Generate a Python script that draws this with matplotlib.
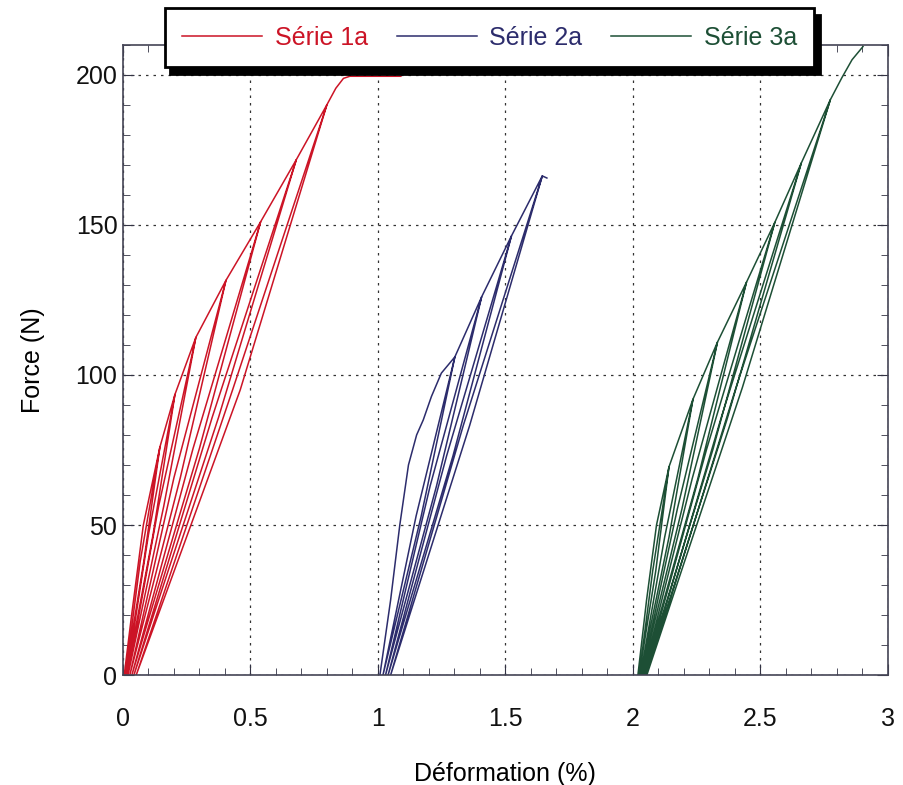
import matplotlib.pyplot as plt
from matplotlib.ticker import MultipleLocator

plt.rcParams['font.family'] = ['Liberation Sans', 'DejaVu Sans']

# Série 1a : first loading, cycle peaks, residual strain, branch x at half peak force
s1_env_x = [0.005, 0.034, 0.08]
s1_env_f = [0, 20, 50]
s1_peak_x = [0.145, 0.204, 0.286, 0.404, 0.54, 0.68, 0.80]
s1_peak_f = [76, 93.5, 112.5, 131.5, 151, 171.7, 190]
s1_resid_x = [0.010, 0.015, 0.020, 0.027, 0.035, 0.043, 0.052]
s1_reload_mid = [0.068, 0.100, 0.140, 0.200, 0.275, 0.350, 0.430]
s1_unload_mid = [0.082, 0.118, 0.160, 0.225, 0.300, 0.375, 0.460]
s1_end_x = [0.835, 0.865, 0.89, 1.09]
s1_end_f = [195.5, 198.8, 199.5, 199.5]

# Série 2a
s2_env_x = [1.008, 1.05, 1.086, 1.12, 1.152, 1.178, 1.21, 1.249]
s2_env_f = [0, 25, 50, 70, 80, 85, 92.8, 100.6]
s2_peak_x = [1.302, 1.407, 1.524, 1.645]
s2_peak_f = [106, 126, 146.3, 166.3]
s2_resid_x = [1.02, 1.03, 1.04, 1.05]
s2_reload_mid = [1.15, 1.205, 1.27, 1.335]
s2_unload_mid = [1.17, 1.23, 1.295, 1.36]
s2_end_x = [1.663]
s2_end_f = [165.6]

# Série 3a
s3_env_x = [2.02, 2.054, 2.093]
s3_env_f = [0, 25, 50]
s3_peak_x = [2.142, 2.236, 2.332, 2.446, 2.557, 2.661, 2.775]
s3_peak_f = [69.4, 91.9, 110.9, 130.9, 150.8, 170.6, 191.7]
s3_resid_x = [2.025, 2.03, 2.035, 2.04, 2.045, 2.05, 2.055]
s3_reload_mid = [2.078, 2.125, 2.175, 2.233, 2.29, 2.345, 2.405]
s3_unload_mid = [2.09, 2.142, 2.193, 2.255, 2.315, 2.37, 2.43]
s3_end_x = [2.82, 2.86, 2.903]
s3_end_f = [199, 205, 209.4]

labels = ['Série 1a', 'Série 2a', 'Série 3a']
colors = ['#cc1426', '#2c2c6c', '#1d4f35']


def build_path(env_x, env_f, peak_x, peak_f, resid, rel_mid, unl_mid, end_x, end_f):
    # chain the cycles: load to peak, unload to residual, reload back to peak
    xs = list(env_x)
    fs = list(env_f)
    for px, pf, r, rm, um in zip(peak_x, peak_f, resid, rel_mid, unl_mid):
        xs += [px, um, r, rm, px]
        fs += [pf, pf / 2, 0, pf / 2, pf]
    xs += end_x
    fs += end_f
    return xs, fs


series = [
    (s1_env_x, s1_env_f, s1_peak_x, s1_peak_f, s1_resid_x, s1_reload_mid, s1_unload_mid, s1_end_x, s1_end_f),
    (s2_env_x, s2_env_f, s2_peak_x, s2_peak_f, s2_resid_x, s2_reload_mid, s2_unload_mid, s2_end_x, s2_end_f),
    (s3_env_x, s3_env_f, s3_peak_x, s3_peak_f, s3_resid_x, s3_reload_mid, s3_unload_mid, s3_end_x, s3_end_f),
]

fig = plt.figure(figsize=(9.04, 7.85), dpi=100)
ax = fig.add_axes([0.136, 0.140, 0.846, 0.803])

for data, lab, col in zip(series, labels, colors):
    x, f = build_path(*data)
    ax.plot(x, f, color=col, lw=1.1, label=lab)

ax.set_xlim(0, 3)
ax.set_ylim(0, 210)
ax.xaxis.set_major_locator(MultipleLocator(0.5))
ax.xaxis.set_minor_locator(MultipleLocator(0.1))
ax.yaxis.set_major_locator(MultipleLocator(50))
ax.yaxis.set_minor_locator(MultipleLocator(10))
ax.set_xticks([0, 0.5, 1, 1.5, 2, 2.5, 3])
ax.set_xticklabels(['0', '0.5', '1', '1.5', '2', '2.5', '3'])
ax.tick_params(which='both', direction='in', top=True, right=True, colors='#333344')
ax.tick_params(which='major', length=8, labelsize=18, labelcolor='#111111')
ax.tick_params(axis='x', which='major', pad=23)
ax.tick_params(axis='y', which='major', pad=4)
ax.tick_params(which='minor', length=5)
ax.grid(True, which='major', color='#333333', linestyle=(0, (2, 4)), lw=0.9)
for sp in ax.spines.values():
    sp.set_color('#444455')
    sp.set_linewidth(1.2)

ax.set_xlabel('Déformation (%)', fontsize=18, labelpad=22)
ax.set_ylabel('Force (N)', fontsize=18, labelpad=22)

leg = ax.legend(ncol=3, loc='center', bbox_to_anchor=(0.5415, 0.9516),
                bbox_transform=fig.transFigure, fontsize=18, handlelength=3.2,
                columnspacing=1.15, handletextpad=0.5, labelcolor='linecolor',
                fancybox=False, framealpha=1, edgecolor='black',
                borderpad=0.7, shadow={'color': 'black', 'alpha': 1, 'ox': 4, 'oy': -5})
leg.get_frame().set_linewidth(2)
leg.set_zorder(10)

fig.savefig('out.png', dpi=100)
